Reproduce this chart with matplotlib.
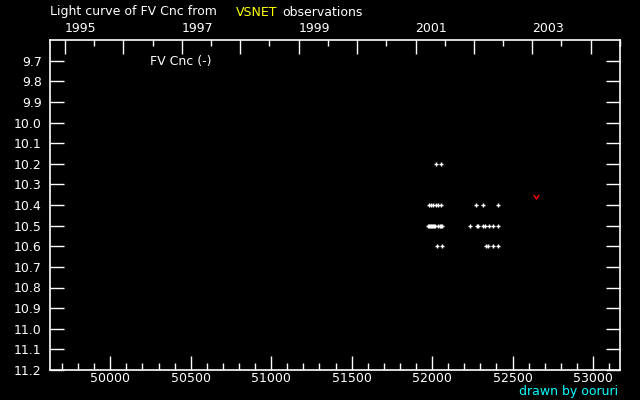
import matplotlib
matplotlib.use("Agg")
import matplotlib.pyplot as plt
from matplotlib.path import Path
import pandas as pd

# Observations: JD-2400000 and visual magnitude
obs_jd = [52025, 52056,
          51983, 51995, 52004, 52023, 52036, 52058, 52273, 52317, 52410,
          51974, 51980, 51986, 51992, 51999, 52005, 52011, 52017, 52036, 52051, 52057, 52063,
          52236, 52278, 52288, 52315, 52327, 52352, 52379, 52410,
          52031, 52062, 52333, 52346, 52379, 52410]
obs_mag = [10.2, 10.2,
           10.4, 10.4, 10.4, 10.4, 10.4, 10.4, 10.4, 10.4, 10.4,
           10.5, 10.5, 10.5, 10.5, 10.5, 10.5, 10.5, 10.5, 10.5, 10.5, 10.5, 10.5,
           10.5, 10.5, 10.5, 10.5, 10.5, 10.5, 10.5, 10.5,
           10.6, 10.6, 10.6, 10.6, 10.6, 10.6]
# Fainter-than observation (red "v")
neg_jd = [52646]
neg_mag = [10.36]

x_ticks = [50000, 50500, 51000, 51500, 52000, 52500, 53000]
y_ticks = [9.7, 9.8, 9.9, 10.0, 10.1, 10.2, 10.3, 10.4, 10.5, 10.6, 10.7,
           10.8, 10.9, 11.0, 11.1, 11.2]
years = list(range(1995, 2005))
year_labels = ["1995", "", "1997", "", "1999", "", "2001", "", "2003", ""]
xlim = (49625.5, 53167.7)
ylim = (11.2, 9.6)

fs = 9
fig = plt.figure(figsize=(6.4, 4.0), dpi=100, facecolor="black")
ax = fig.add_axes([50 / 640, 30 / 400, 570 / 640, 330 / 400], facecolor="black")
ax.set_xlim(*xlim)
ax.set_ylim(*ylim)

ax.plot(obs_jd, obs_mag, linestyle="none", marker="+", color="white",
        markersize=3.0, markeredgewidth=1.0)
vmark = Path([(-1, 1), (0, -0.6), (1, 1)], [Path.MOVETO, Path.LINETO, Path.LINETO])
ax.plot(neg_jd, neg_mag, linestyle="none", marker=vmark, markerfacecolor="none",
        markeredgecolor="red", markersize=3.8, markeredgewidth=1.0)

for s in ax.spines.values():
    s.set_color("white")
    s.set_linewidth(1.2)

ax.set_xticks(x_ticks)
ax.set_xticklabels([str(v) for v in x_ticks])
ax.set_xticks(list(range(49700, 53200, 100)), minor=True)
ax.set_yticks(y_ticks)
ax.set_yticklabels([f"{v:.1f}" for v in y_ticks])
ax.tick_params(axis="x", which="major", direction="in", length=10, width=1,
               color="white", labelcolor="white", labelsize=fs, pad=1.5,
               top=False)
ax.tick_params(axis="x", which="minor", direction="in", length=5, width=1,
               color="white", top=False)
ax.tick_params(axis="y", which="major", direction="in", length=10, width=1,
               color="white", labelcolor="white", labelsize=fs, pad=6,
               left=True, right=True)
ax.tick_params(axis="y", which="minor", left=False, right=False)

# Top year axis
top = ax.twiny()
top.set_xlim(*xlim)
year_jd = [pd.Timestamp(f"{y}-01-01").to_julian_date() - 2400000 for y in years]
half_jd = [pd.Timestamp(f"{y}-07-02").to_julian_date() - 2400000 for y in years]
top.set_xticks(year_jd)
top.set_xticklabels(year_labels)
top.set_xticks(half_jd, minor=True)
top.tick_params(axis="x", which="major", direction="in", length=10, width=1,
                color="white", labelcolor="white", labelsize=fs, pad=3.5)
top.tick_params(axis="x", which="minor", direction="in", length=4, width=1,
                color="white")
for lab in top.get_xticklabels():
    lab.set_horizontalalignment("left")
for s in top.spines.values():
    s.set_visible(False)

fig.text(150 / 640, 1 - 61 / 400, "FV Cnc (-)", color="white",
         fontsize=fs, va="center", ha="left")

fig.text(50 / 640, 1 - 12 / 400, "Light curve of FV Cnc from", color="white",
         fontsize=fs, va="center", ha="left")
fig.text(236 / 640, 1 - 12 / 400, "VSNET", color="yellow",
         fontsize=fs, va="center", ha="left")
fig.text(282 / 640, 1 - 12 / 400, "observations", color="white",
         fontsize=fs, va="center", ha="left")
fig.text(618 / 640, 1 - 391 / 400, "drawn by ooruri", color="cyan",
         fontsize=fs, va="center", ha="right")

fig.savefig("out.png", dpi=100, facecolor="black")
